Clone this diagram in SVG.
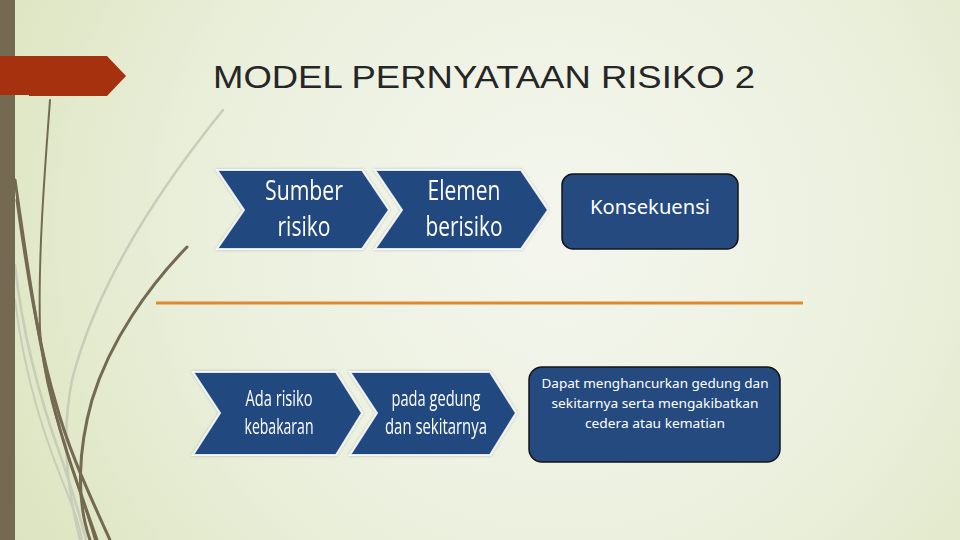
<svg xmlns="http://www.w3.org/2000/svg" width="960" height="540" viewBox="0 0 960 540">
  <defs>
    <radialGradient id="bg" cx="560" cy="230" r="620" gradientUnits="userSpaceOnUse">
      <stop offset="0" stop-color="#F4F6EE"/>
      <stop offset="0.55" stop-color="#EBF0DD"/>
      <stop offset="1" stop-color="#DCE5C0"/>
    </radialGradient>
    <filter id="glow" x="-10%" y="-10%" width="120%" height="120%">
      <feGaussianBlur in="SourceAlpha" stdDeviation="1.5"/>
      <feComponentTransfer><feFuncA type="linear" slope="0.25"/></feComponentTransfer>
      <feMerge><feMergeNode/><feMergeNode in="SourceGraphic"/></feMerge>
    </filter>
  </defs>
  <style>
    .chev { fill: #21497F; stroke: #FFFFFF; stroke-width: 2; stroke-opacity: 0.85; }
    .box { fill: #244A80; stroke: #141414; stroke-width: 1.5; }
    .ct { font-family: "Liberation Sans Narrow", "Open Sans", "Liberation Sans", sans-serif; fill: #FFFFFF; text-anchor: middle; }
    .bt { font-family: "Noto Sans", "Liberation Sans", sans-serif; fill: #FFFFFF; text-anchor: middle; }
    .dark { fill: none; stroke: #746A52; stroke-linecap: round; }
    .light { fill: none; stroke: #C9CCB8; stroke-linecap: round; }
  </style>
  <rect width="960" height="540" fill="url(#bg)"/>

  <!-- decorative curves -->
  <g id="decor">
    <path class="light" stroke-width="2.5" d="M223,110 C150,200 95,290 72,380 C62,430 65,480 80,540"/>
    <path class="light" stroke-width="2.5" d="M15,265 C22,330 40,400 62,460 C72,490 80,515 86,540"/>
    <path class="light" stroke-width="2" d="M15,300 C25,380 45,440 70,500 C76,515 80,528 82,540"/>
    <path class="dark" stroke-width="2" d="M50,100 C44,180 38,260 40,330 C44,400 72,460 95,540"/>
    <path class="dark" stroke-width="3" d="M15,180 C25,250 35,320 48,380 C60,440 80,490 97,540"/>
    <path class="dark" stroke-width="3" d="M17,200 C28,280 40,350 55,400 C68,450 92,500 110,540"/>
    <path class="dark" stroke-width="3" d="M187,247 C150,285 110,340 92,400 C78,450 76,500 90,540"/>
  </g>

  <!-- left bar and red arrow -->
  <rect id="sidebar" x="0" y="0" width="15" height="540" fill="#746A52"/>
  <polygon id="title-arrow" points="0,56 107,56 126,76 107,96 29,96 29,95 0,95" fill="#A5310F"/>

  <text id="title" x="213" y="88" font-family="Liberation Sans, Arial, sans-serif" font-size="31" fill="#262626" textLength="542" lengthAdjust="spacingAndGlyphs">MODEL PERNYATAAN RISIKO 2</text>

  <!-- top row -->
  <g id="sumber-risiko" filter="url(#glow)">
    <polygon class="chev" points="217,170 362,170 389,210 362,249 217,249 244,210"/>
    <text class="ct" x="304" y="200" font-size="27" textLength="78" lengthAdjust="spacingAndGlyphs">Sumber</text>
    <text class="ct" x="304" y="236" font-size="27" textLength="53" lengthAdjust="spacingAndGlyphs">risiko</text>
  </g>
  <g id="elemen-berisiko" filter="url(#glow)">
    <polygon class="chev" points="375,170 521,170 548,210 521,249 375,249 402,210"/>
    <text class="ct" x="464" y="200" font-size="27" textLength="73" lengthAdjust="spacingAndGlyphs">Elemen</text>
    <text class="ct" x="464" y="236" font-size="27" textLength="77" lengthAdjust="spacingAndGlyphs">berisiko</text>
  </g>
  <g id="konsekuensi">
    <rect class="box" x="562" y="174" width="176" height="75" rx="11"/>
    <text class="bt" x="650" y="214" font-size="19" textLength="120" lengthAdjust="spacingAndGlyphs">Konsekuensi</text>
  </g>

  <!-- divider -->
  <g id="connectors">
    <line x1="156" y1="303" x2="803" y2="303" stroke="#DB8A2E" stroke-width="3"/>
  </g>

  <!-- bottom row -->
  <g id="ada-risiko" filter="url(#glow)">
    <polygon class="chev" points="193,372 336,372 362,413 336,455 193,455 220,413"/>
    <text class="ct" x="279" y="406" font-size="22" textLength="67" lengthAdjust="spacingAndGlyphs">Ada risiko</text>
    <text class="ct" x="279" y="434" font-size="22" textLength="69" lengthAdjust="spacingAndGlyphs">kebakaran</text>
  </g>
  <g id="pada-gedung" filter="url(#glow)">
    <polygon class="chev" points="350,372 490,372 516,413 490,455 350,455 377,413"/>
    <text class="ct" x="436" y="406" font-size="22" textLength="89" lengthAdjust="spacingAndGlyphs">pada gedung</text>
    <text class="ct" x="436" y="434" font-size="22" textLength="102" lengthAdjust="spacingAndGlyphs">dan sekitarnya</text>
  </g>
  <g id="dampak">
    <rect class="box" x="529" y="367" width="251" height="95" rx="13"/>
    <text class="bt" x="655" y="388" font-size="13" textLength="227" lengthAdjust="spacingAndGlyphs">Dapat menghancurkan gedung dan</text>
    <text class="bt" x="655" y="408" font-size="13" textLength="207" lengthAdjust="spacingAndGlyphs">sekitarnya serta mengakibatkan</text>
    <text class="bt" x="655" y="428" font-size="13" textLength="140" lengthAdjust="spacingAndGlyphs">cedera atau kematian</text>
  </g>
</svg>
